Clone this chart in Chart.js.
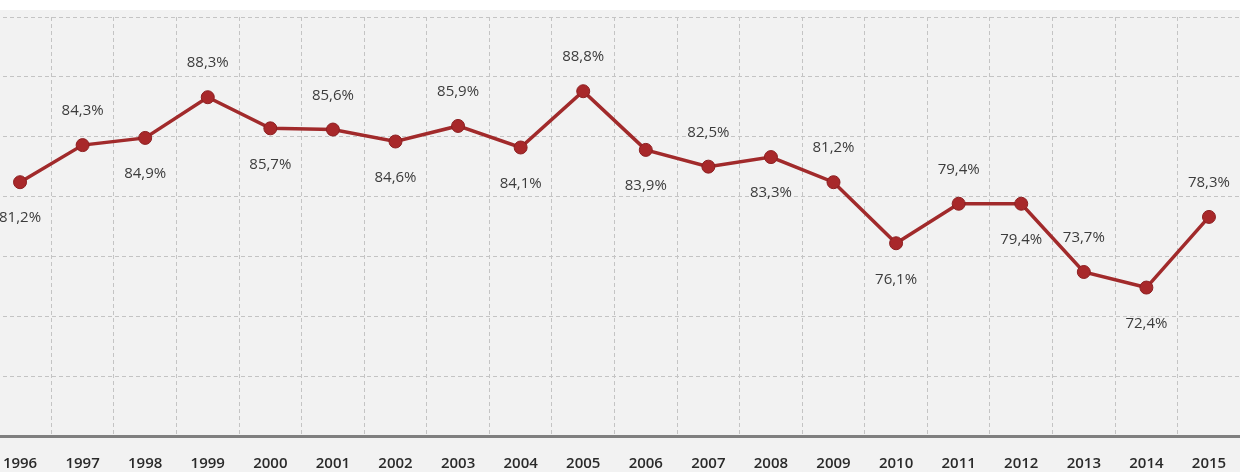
<!DOCTYPE html>
<html>
<head>
<meta charset="utf-8">
<script src="https://cdn.jsdelivr.net/npm/chart.js@4"></script>
<style>
  html, body { margin: 0; padding: 0; background: #ffffff; overflow: hidden; }
  #wrap {
    position: absolute;
    left: 0;
    top: 10px;
    width: 1240px;
    height: 462px;
    background: #f2f2f2;
    overflow: hidden;
  }
  #myChart { position: absolute; left: -16px; top: 0; }
</style>
</head>
<body>
<div id="wrap"><canvas id="myChart" width="1261" height="482"></canvas></div>
<script>
// data
const years = ["1996", "1997", "1998", "1999", "2000", "2001", "2002", "2003", "2004", "2005",
  "2006", "2007", "2008", "2009", "2010", "2011", "2012", "2013", "2014", "2015"];
const rates = [81.2, 84.3, 84.9, 88.3, 85.7, 85.6, 84.6, 85.9, 84.1, 88.8,
  83.9, 82.5, 83.3, 81.2, 76.1, 79.4, 79.4, 73.7, 72.4, 78.3];
// label above (1) or below (-1) each point
const labelSide = [-1, 1, -1, 1, -1, 1, -1, 1, -1, 1, -1, 1, -1, 1, -1, 1, -1, 1, -1, 1];

const lineColor = "#a12a2b";

//draws the value labels next to the points
const valueLabels = {
  id: "valueLabels",
  afterDatasetsDraw(chart) {
    const ctx = chart.ctx;
    const meta = chart.getDatasetMeta(0);
    ctx.save();
    ctx.font = "15px 'Open Sans'";
    ctx.fillStyle = "#3c3c3c";
    ctx.textAlign = "center";
    ctx.textBaseline = "middle";
    meta.data.forEach((pt, i) => {
      const txt = rates[i].toFixed(1).replace(".", ",") + "%";
      const dy = labelSide[i] > 0 ? -34 : 36;
      ctx.fillText(txt, pt.x, pt.y + dy);
    });
    ctx.restore();
  },
};

const chart = new Chart("myChart", {
  type: "line",
  data: {
    labels: years,
    datasets: [
      {
        data: rates,
        borderColor: lineColor,
        borderWidth: 3.5,
        backgroundColor: lineColor,
        pointBackgroundColor: "#a8282a",
        pointBorderColor: "#8c1f21",
        pointBorderWidth: 1,
        pointRadius: 6.5,
        tension: 0,
      },
    ],
  },
  options: {
    responsive: false,
    animation: false,
    events: [],
    layout: { autoPadding: false, padding: { left: 0, right: 0, top: 7, bottom: 0 } },
    plugins: {
      legend: { display: false },
      tooltip: { enabled: false },
    },
    scales: {
      x: {
        offset: true,
        grid: {
          offset: true,
          color: "#c4c4c4",
          lineWidth: 1,
          drawTicks: false,
        },
        border: {
          display: true,
          color: "#7f7f7f",
          width: 3,
          dash: [4, 3],
        },
        ticks: {
          padding: 19,
          color: "#2a2a2a",
          font: { family: "'Open Sans'", size: 15, weight: "600" },
          maxRotation: 0,
          autoSkip: false,
        },
      },
      y: {
        min: 60,
        max: 95,
        ticks: { display: false, stepSize: 5 },
        grid: {
          color: "#c4c4c4",
          lineWidth: 1,
          drawTicks: false,
        },
        border: { display: false, dash: [4, 3] },
      },
    },
  },
  plugins: [valueLabels],
});
</script>
</body>
</html>
